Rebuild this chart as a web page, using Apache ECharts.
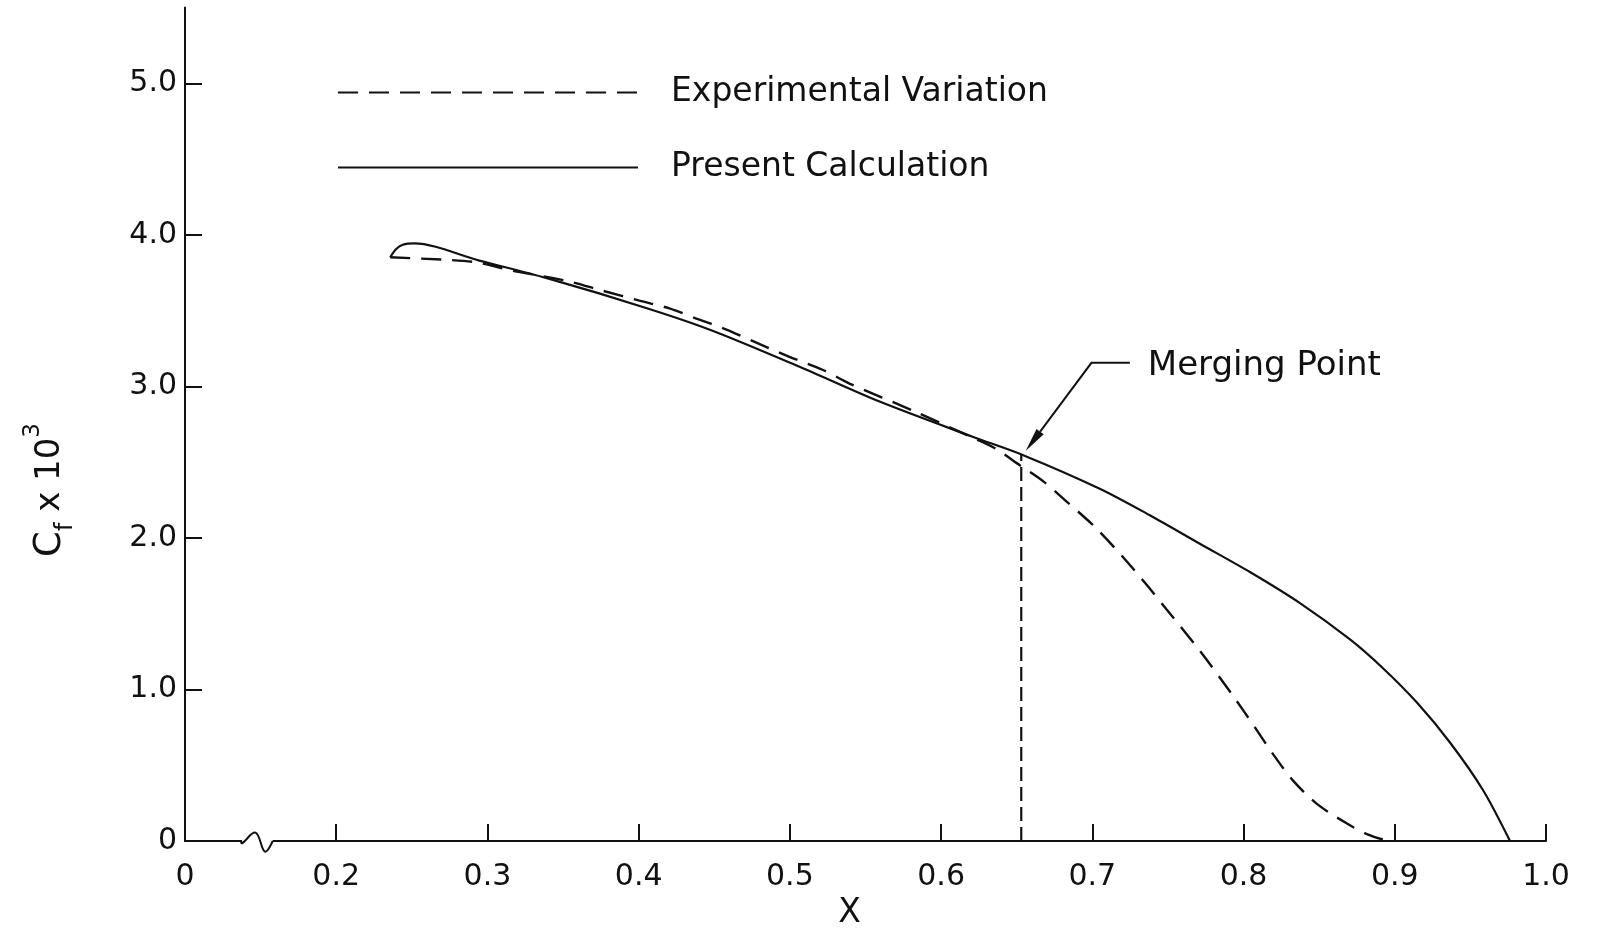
<!DOCTYPE html>
<html><head><meta charset="utf-8">
<script src="https://cdn.jsdelivr.net/npm/echarts@6/dist/echarts.min.js"></script>
<style>html,body{margin:0;padding:0;background:#fff}#c{width:1600px;height:930px}</style>
</head><body><div id="c"></div>
<script>
// ---- data ----
const xTickLabels = ['0','0.2','0.3','0.4','0.5','0.6','0.7','0.8','0.9','1.0']; // at 0.1 .. 1.0 (axis broken between 0 and 0.2)
const yTickLabels = ['0','1.0','2.0','3.0','4.0','5.0'];

const calcX = [0.2357,0.2395,0.2440,0.2516,0.2946,0.3387,0.4049,0.4488,0.5064,0.5593,0.6208,0.6539,0.7049,0.7380,0.7711,0.8042,0.8373,0.8704,0.8922,0.9145,0.9365,0.9584,0.9762];
const calcY = [3.852,3.905,3.935,3.944,3.830,3.716,3.518,3.368,3.130,2.900,2.668,2.548,2.325,2.150,1.962,1.775,1.570,1.330,1.140,0.915,0.650,0.335,0.000];

const expX = [0.2357,0.2700,0.2924,0.3164,0.3520,0.3760,0.4005,0.4203,0.4382,0.4580,0.4752,0.4997,0.5216,0.5394,0.5811,0.6200,0.6350,0.6520,0.6680,0.6830,0.7030,0.7267,0.7490,0.7711,0.7929,0.8075,0.8194,0.8326,0.8485,0.8684,0.8816,0.8920,0.9000];
const expY = [3.852,3.837,3.819,3.764,3.698,3.632,3.566,3.515,3.448,3.375,3.300,3.195,3.110,3.019,2.841,2.665,2.595,2.480,2.370,2.240,2.060,1.800,1.530,1.255,0.960,0.750,0.575,0.400,0.245,0.115,0.045,0.010,0.000];

const mergeX = 0.653, mergeY = 2.55;
const mergeLabel = 'Merging Point';
const mergeLabelPos = [0.7367, 3.131];
const arrowX = [0.7248, 0.6994, 0.6560];
const arrowY = [3.156, 3.156, 2.575];
const breakX = [0.1377, 0.1466, 0.1529, 0.1580];
const breakY = [-0.015, 0.055, -0.070, 0.000];

const INK = '#111';
const FONT = 'DejaVu Sans';
const zip = (xs, ys) => xs.map((x, i) => [x, ys[i]]);
const yVals = yTickLabels.map(parseFloat);

const chart = echarts.init(document.getElementById('c'), null, {renderer: 'canvas'});
chart.setOption({
  animation: false,
  backgroundColor: '#fff',
  grid: {left: 185, right: 54, top: 7.6, bottom: 89, containLabel: false, outerBoundsMode: 'none'},
  legend: {
    data: ['Experimental Variation', 'Present Calculation'],
    orient: 'vertical', left: 337, top: 76, padding: 0,
    itemWidth: 300, itemHeight: 14, itemGap: 42,
    selectedMode: false,
    itemStyle: {opacity: 0},
    textStyle: {fontSize: 33, fontFamily: FONT, color: INK, lineHeight: 30, padding: [0, 0, 0, 28]}
  },
  xAxis: {
    type: 'value', min: 0.1, max: 1.0, interval: 0.1,
    name: 'X', nameLocation: 'middle', nameGap: 54,
    nameTextStyle: {fontSize: 33, fontFamily: FONT, color: INK, padding: [0, 32, 0, 0]},
    axisLine: {lineStyle: {color: INK, width: 2}},
    axisTick: {inside: true, length: 17, lineStyle: {color: INK, width: 2}},
    splitLine: {show: false},
    axisLabel: {margin: 21, fontSize: 30, fontFamily: FONT, color: INK,
      formatter: v => xTickLabels[Math.round(v * 10) - 1] ?? ''}
  },
  yAxis: {
    type: 'value', min: 0, max: 5.5, interval: 1,
    axisLine: {show: true, lineStyle: {color: INK, width: 2}},
    axisTick: {show: true, inside: true, length: 17, customValues: yVals, lineStyle: {color: INK, width: 2}},
    splitLine: {show: false},
    axisLabel: {margin: 8, fontSize: 30, fontFamily: FONT, color: INK, customValues: yVals,
      formatter: v => yTickLabels[Math.round(v)] ?? ''}
  },
  series: [
    {name: 'Present Calculation', type: 'line', data: zip(calcX, calcY), symbol: 'none', smooth: 0.3,
     lineStyle: {color: INK, width: 2.2}, itemStyle: {color: INK}, z: 3},
    {name: 'Experimental Variation', type: 'line', data: zip(expX, expY), symbol: 'none', smooth: 0.3,
     lineStyle: {color: INK, width: 2.4, type: [20, 11]}, itemStyle: {color: INK}, z: 3},
    {name: 'merge', type: 'line', data: [[mergeX, 0], [mergeX, mergeY]], symbol: 'none',
     lineStyle: {color: INK, width: 2.2, type: [14, 6]}, z: 3}
  ]
});

function px(x, y) { return chart.convertToPixel({gridIndex: 0}, [x, y]); }

// arrow
const pts = arrowX.map((x, i) => px(x, arrowY[i]));
const tip = pts[pts.length - 1], prev = pts[pts.length - 2];
let dx = tip[0] - prev[0], dy = tip[1] - prev[1];
const L = Math.hypot(dx, dy); dx /= L; dy /= L;
const headLen = 24, headHalf = 4.5;
const base = [tip[0] - dx * headLen, tip[1] - dy * headLen];
const shaft = pts.slice(0, -1).concat([base]);
// axis break
const bpts = breakX.map((x, i) => px(x, breakY[i]));
const b0 = px(breakX[0], 0), b1 = px(breakX[breakX.length - 1], 0);
const lab = px(mergeLabelPos[0], mergeLabelPos[1]);

chart.setOption({
  graphic: [
    {type: 'polyline', z: 20, shape: {points: shaft}, style: {stroke: INK, lineWidth: 2, fill: null}},
    {type: 'polygon', z: 20, shape: {points: [tip,
      [base[0] - dy * headHalf, base[1] + dx * headHalf],
      [base[0] + dy * headHalf, base[1] - dx * headHalf]]}, style: {fill: INK}},
    {type: 'text', z: 20, x: lab[0], y: lab[1],
     style: {text: mergeLabel, fontSize: 34, fontFamily: FONT, fill: INK, align: 'left', verticalAlign: 'middle'}},
    {type: 'rect', z: 20, shape: {x: b0[0], y: b0[1] - 3, width: b1[0] - b0[0], height: 6}, style: {fill: '#fff'}},
    {type: 'polyline', z: 21, shape: {points: [[b0[0] - 1, b0[1]]].concat(bpts), smooth: 0.4},
     style: {stroke: INK, lineWidth: 2, fill: null}},
    {type: 'text', z: 20, x: 50, y: 490, rotation: Math.PI / 2,
     style: {
       text: '{c|C}{s|f}{n| x 10}{p|3}', align: 'center', verticalAlign: 'middle', fill: INK, fontFamily: FONT,
       rich: {
         c: {fontSize: 37, lineHeight: 56, verticalAlign: 'middle', fill: INK, fontFamily: FONT},
         s: {fontSize: 24, lineHeight: 24, verticalAlign: 'bottom', fill: INK, fontFamily: FONT},
         n: {fontSize: 34, lineHeight: 56, verticalAlign: 'middle', fill: INK, fontFamily: FONT},
         p: {fontSize: 23, lineHeight: 23, verticalAlign: 'top', fill: INK, fontFamily: FONT}
       }
     }}
  ]
});
</script></body></html>
